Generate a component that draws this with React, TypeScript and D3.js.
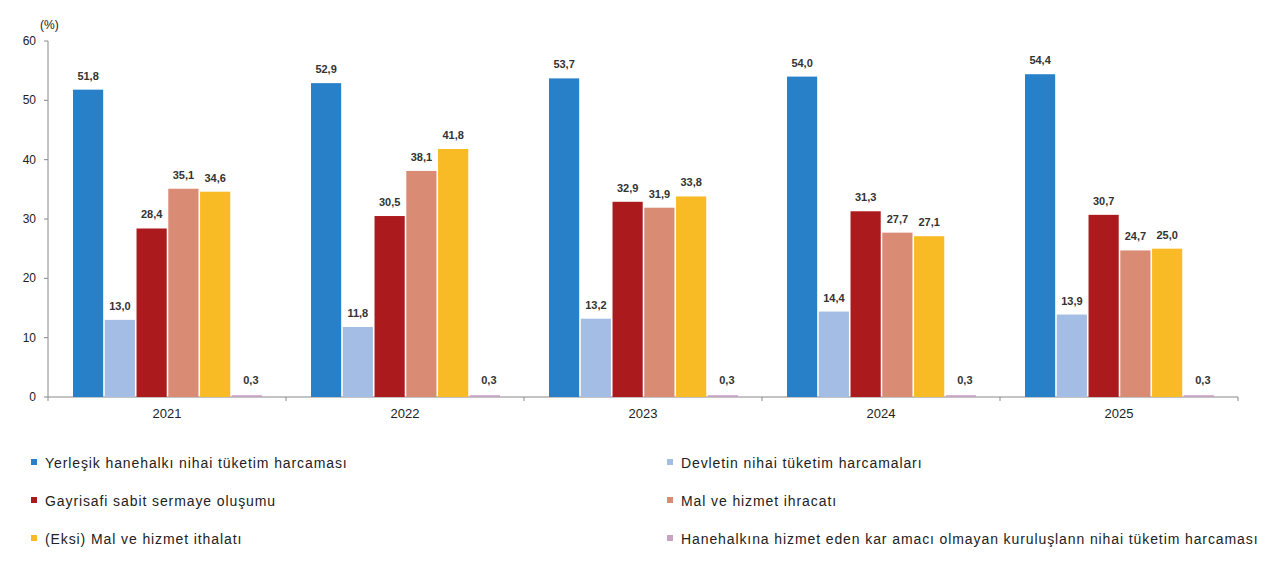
import React from "react";
import * as d3 from "d3";

const years = ["2021", "2022", "2023", "2024", "2025"];
const seriesNames = [
  "Yerleşik hanehalkı nihai tüketim harcaması",
  "Devletin nihai tüketim harcamaları",
  "Gayrisafi sabit sermaye oluşumu",
  "Mal ve hizmet ihracatı",
  "(Eksi) Mal ve hizmet ithalatı",
  "Hanehalkına hizmet eden kar amacı olmayan kuruluşlann nihai tüketim harcaması",
];
const household = [51.8, 52.9, 53.7, 54.0, 54.4];
const government = [13.0, 11.8, 13.2, 14.4, 13.9];
const gfcf = [28.4, 30.5, 32.9, 31.3, 30.7];
const exportsV = [35.1, 38.1, 31.9, 27.7, 24.7];
const importsV = [34.6, 41.8, 33.8, 27.1, 25.0];
const npish = [0.3, 0.3, 0.3, 0.3, 0.3];
const seriesValues = [household, government, gfcf, exportsV, importsV, npish];
const colors = ["#2880c8", "#a4bde5", "#ab1a1d", "#d98b74", "#f9bb25", "#c9a3c4"];
const yTicks = [0, 10, 20, 30, 40, 50, 60];

const fmt = (v: number) => v.toFixed(1).replace(".", ",");

export default function App() {
  const W = 1280, H = 567;
  const x0 = d3.scaleBand().domain(years).range([48, 1238]).padding(0);
  const x1 = d3.scaleBand().domain(seriesNames).range([25, 25 + 189]).paddingInner(0.05);
  const y = d3.scaleLinear().domain([0, 60]).range([397, 41]);
  const font = "Liberation Sans, Arial, sans-serif";
  const legendPos = [
    [36, 463], [672, 463], [36, 501], [672, 501], [36, 539], [672, 539],
  ];
  return (
    <svg width={W} height={H} style={{ position: "absolute", left: 0, top: 0, background: "#fff" }} fontFamily={font}>
      <line x1={48} x2={48} y1={41} y2={397} stroke="#888" />
      <line x1={48} x2={1238} y1={397} y2={397} stroke="#888" />
      {yTicks.map((t) => (
        <g key={t}>
          <line x1={44} x2={48} y1={y(t)} y2={y(t)} stroke="#888" />
          <text x={36} y={y(t) + 4} textAnchor="end" fontSize={12} fill="#222">{t}</text>
        </g>
      ))}
      <text x={40} y={29} fontSize={12} fill="#222">(%)</text>
      {years.map((yr, i) => (
        <g key={yr}>
          <line x1={x0(yr)!} x2={x0(yr)!} y1={397} y2={401} stroke="#888" />
          <text x={x0(yr)! + x0.bandwidth() / 2} y={418} textAnchor="middle" fontSize={13} fill="#222">{yr}</text>
          {seriesNames.map((s, j) => {
            const v = seriesValues[j][i];
            const bx = x0(yr)! + x1(s)!;
            return (
              <g key={s}>
                <rect x={bx} y={y(v)} width={x1.bandwidth()} height={397 - y(v)} fill={colors[j]} />
                <text x={bx + x1.bandwidth() / 2 + (j === 5 ? 4 : 0)} y={j === 5 ? 384 : y(v) - 10} textAnchor="middle"
                  fontSize={11} fontWeight="bold" fill="#333">{fmt(v)}</text>
              </g>
            );
          })}
        </g>
      ))}
      <line x1={1238} x2={1238} y1={397} y2={401} stroke="#888" />
      {seriesNames.map((s, j) => (
        <g key={s}>
          <rect x={legendPos[j][0] - 5} y={legendPos[j][1] - 4} width={6} height={6} fill={colors[j]} />
          <text x={legendPos[j][0] + 9} y={legendPos[j][1] + 5} fontSize={14} letterSpacing={0.9} fill="#222">{s}</text>
        </g>
      ))}
    </svg>
  );
}
